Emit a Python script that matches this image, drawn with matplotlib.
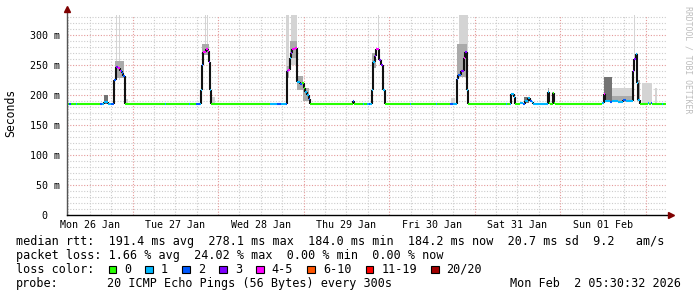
import numpy as np
import matplotlib.pyplot as plt
from matplotlib.patches import Rectangle

plt.rcParams['font.family'] = ['DejaVu Sans Mono', 'DejaVu Sans']

# time axis: hours since Mon 26 Jan 2026 00:00, last 7 days
t_start, t_end = 5.6, 173.6
day_labels = ['Mon 26 Jan', 'Tue 27 Jan', 'Wed 28 Jan', 'Thu 29 Jan',
              'Fri 30 Jan', 'Sat 31 Jan', 'Sun 01 Feb']
day_noon = [12, 36, 60, 84, 108, 132, 156]

# median rtt (ms) as steps, with lost pings (out of 20) for each step
med_t = [5.6, 6.3, 6.6, 8.0, 8.3, 14.8, 15.4, 16.1, 17.2, 18.0,
         18.9, 19.25, 19.8, 20.5, 20.85, 21.1, 21.4, 21.8,
         33.2, 33.5, 39.7, 40.0, 41.8, 43.0,
         43.2, 43.45, 43.7, 44.5, 45.2, 45.35, 45.65, 45.95,
         62.5, 64.5, 65.6, 67.0,
         67.25, 67.7, 68.1, 68.4, 68.8, 69.6, 70.2, 71.0, 71.5, 72.0, 72.4, 72.9, 73.4, 73.8,
         85.8, 86.05, 88.6, 89.0, 89.8, 90.3, 90.6,
         91.1, 91.35, 91.6, 91.9, 92.3, 93.25, 93.6, 94.3, 94.7,
         101.8, 102.1, 109.1, 109.4, 113.0, 113.8,
         114.95, 115.4, 116.1, 117.0, 117.25, 117.95, 118.25,
         128.8, 129.2, 129.9, 130.25, 130.9, 131.3, 132.8, 133.6, 134.2, 134.9, 135.4, 136.0, 136.5,
         140.55, 140.8, 141.2, 141.85, 142.15, 142.4,
         155.6, 156.3, 156.7, 158.0, 158.6, 160.2, 161.5, 162.4,
         164.3, 164.45, 164.8, 165.15, 165.45, 165.7, 166.5,
         168.6, 168.9, 169.6, 169.85, 172.5, 172.8, 173.6]
med_ms = [184, 184, 184, 184, 184, 184, 184, 188, 184, 184,
          224, 247, 245, 240, 240, 236, 232, 184,
          184, 184, 184, 184, 184, 184,
          208, 250, 272, 276, 273, 255, 208, 184,
          184, 184, 184, 184,
          240, 242, 262, 270, 277, 278, 222, 218, 220, 212, 204, 199, 193, 184,
          189, 184, 184, 184, 184, 184, 184,
          208, 240, 255, 265, 276, 258, 250, 208, 184,
          184, 184, 184, 184, 184, 184,
          226, 233, 239, 262, 272, 208, 184,
          184, 184, 184, 201, 196, 184, 186, 184, 189, 194, 190, 188, 184,
          204, 186, 184, 203, 186, 184,
          186, 201, 190, 188, 190, 188, 191, 189,
          215, 240, 259, 268, 220, 192, 184,
          187, 184, 187, 184, 184, 184, 184]
med_loss = [0, 2, 0, 1, 0, 2, 1, 1, 1, 2,
            2, 3, 4, 4, 2, 2, 2, 0,
            1, 0, 1, 0, 2, 1,
            1, 2, 4, 4, 4, 3, 1, 0,
            1, 2, 1, 2,
            3, 4, 1, 3, 4, 4, 1, 2, 0, 0, 1, 1, 2, 0,
            2, 0, 1, 0, 1, 2, 1,
            1, 2, 1, 3, 4, 3, 3, 1, 0,
            1, 0, 1, 0, 2, 1,
            2, 2, 3, 4, 3, 1, 0,
            1, 0, 1, 1, 1, 0, 1, 2, 1, 1, 2, 1, 1,
            1, 0, 0, 0, 0, 0,
            1, 4, 1, 2, 1, 1, 2, 1,
            2, 3, 3, 1, 1, 1, 0,
            1, 0, 2, 0, 1, 0, 0]

# smoke: spread of the 20 pings (ms), density 1 (few pings) .. 3 (many)
smoke_t0 = [19.45, 20.3, 44.3, 44.95, 67.05, 68.4, 92.8, 115.6, 164.65,
            16.0, 19.0, 21.7, 43.5, 45.9, 67.2, 68.3, 70.2, 71.8, 91.3, 94.6,
            113.4, 115.0, 133.9, 140.5, 141.8, 156.3, 158.6, 158.6, 165.5, 167.0, 170.5]
smoke_t1 = [19.75, 20.6, 44.5, 45.2, 67.95, 70.2, 93.2, 118.1, 164.95,
            17.1, 21.6, 22.6, 45.5, 47.2, 68.0, 70.2, 71.8, 73.6, 92.4, 95.2,
            114.6, 117.9, 135.3, 140.9, 142.1, 158.6, 164.3, 164.3, 166.5, 169.8, 171.2]
smoke_lo = [230, 225, 270, 270, 235, 250, 270, 230, 240,
            184, 228, 184, 266, 184, 228, 262, 208, 190, 245, 184,
            184, 230, 186, 186, 186, 190, 188, 188, 190, 186, 186]
smoke_hi = [333, 333, 333, 333, 333, 333, 333, 333, 333,
            199, 256, 193, 284, 196, 248, 290, 232, 212, 270, 192,
            195, 285, 197, 212, 205, 230, 212, 198, 225, 220, 212]
smoke_density = [1, 1, 1, 1, 1, 1, 1, 1, 1,
                 3, 2, 1, 2, 1, 2, 2, 2, 2, 2, 1,
                 1, 2, 3, 2, 2, 3, 1, 2, 2, 1, 1]

loss_keys = ['0', '1', '2', '3', '4-5', '6-10', '11-19', '20/20']
loss_colors = ['#26ff00', '#00b8ff', '#0059ff', '#7e00ff', '#ff00ff',
               '#ff5500', '#ff0000', '#a10000']
loss_upper = [0, 1, 2, 3, 5, 10, 19, 20]


def loss_color(n):
    for up, c in zip(loss_upper, loss_colors):
        if n <= up:
            return c
    return loss_colors[-1]


W, H = 697, 297
fig = plt.figure(figsize=(W / 100, H / 100), dpi=100)
ax = fig.add_axes([67 / W, 82 / H, 598.7 / W, 200 / H])
ax.set_xlim(t_start, t_end)
ax.set_ylim(0, 333)

# grid
for h in np.arange(6, 174, 6):
    if h % 24:
        ax.axvline(h, color='#cccccc', lw=0.8, ls=(0, (1, 1.5)), zorder=0)
for v in range(10, 334, 10):
    if v % 50:
        ax.axhline(v, color='#cccccc', lw=0.8, ls=(0, (1, 1.5)), zorder=0)
for h in range(24, 174, 24):
    ax.axvline(h, color='#e49a9a', lw=0.8, ls=(0, (1, 1.5)), zorder=0.5)
for v in range(50, 334, 50):
    ax.axhline(v, color='#e49a9a', lw=0.8, ls=(0, (1, 1.5)), zorder=0.5)

# smoke, lighter shades first
shades = {1: '#d4d4d4', 2: '#aaaaaa', 3: '#737373'}
t0, t1 = np.array(smoke_t0), np.array(smoke_t1)
lo, hi = np.array(smoke_lo), np.array(smoke_hi)
dens = np.array(smoke_density)
for d in (1, 2, 3):
    k = dens == d
    ax.bar(t0[k], hi[k] - lo[k], width=t1[k] - t0[k], bottom=lo[k],
           align='edge', color=shades[d], lw=0, zorder=1 + d * 0.1)

# median line: black risers, flat parts coloured by packet loss
mt, mv = np.array(med_t), np.array(med_ms)
jump = mv[1:] != mv[:-1]
ax.vlines(mt[1:][jump], mv[:-1][jump], mv[1:][jump], colors='#111111', lw=1.5,
          zorder=3)
seg_colors = [loss_color(n) for n in med_loss[:-1]]
ax.hlines(mv[:-1], mt[:-1], mt[1:], colors=seg_colors, lw=1.5, zorder=4)

# axes
for s in ax.spines.values():
    s.set_visible(False)
ax.plot([0, 0], [0, 1.02], transform=ax.transAxes, color='#555555', lw=1,
        clip_on=False, zorder=5)
ax.plot([0, 1.006], [0, 0], transform=ax.transAxes, color='black', lw=1,
        clip_on=False, zorder=5)
ax.plot([0], [1.03], marker='^', ms=4, color='#7f0000', transform=ax.transAxes,
        clip_on=False, zorder=6)
ax.plot([1.009], [0], marker='>', ms=4, color='#7f0000', transform=ax.transAxes,
        clip_on=False, zorder=6)

yt = list(range(0, 301, 50))
ax.set_yticks(yt, ['0  '] + [f'{v} m' for v in yt[1:]])
ax.set_xticks(day_noon, day_labels)
ax.tick_params(axis='y', length=0, pad=5, labelsize=7.2)
ax.tick_params(axis='x', length=0, pad=3.5, labelsize=7.2)

fig.text(11 / W, 1 - 113 / H, 'Seconds', rotation=90, ha='center', va='center',
         fontsize=8.3)
fig.text(688 / W, 1 - 60 / H, 'RRDTOOL / TOBI OETIKER', rotation=270,
         ha='center', va='center', fontsize=5.9, color='#bdbdbd')

# legend block
fs = 8.5
cw = 7.12
rows_y = [241, 255.5, 269.5, 283.5]
fig.text(16 / W, 1 - rows_y[0] / H,
         'median rtt:  191.4 ms avg  278.1 ms max  184.0 ms min  184.2 ms now  20.7 ms sd  9.2   am/s',
         va='center', fontsize=fs)
fig.text(16 / W, 1 - rows_y[1] / H,
         'packet loss: 1.66 % avg  24.02 % max  0.00 % min  0.00 % now',
         va='center', fontsize=fs)
fig.text(16 / W, 1 - rows_y[2] / H, 'loss color:', va='center', fontsize=fs)
x = 16 + 13 * cw
for key, col in zip(loss_keys, loss_colors):
    fig.patches.append(Rectangle((x / W, 1 - (rows_y[2] + 3.8) / H), 7.5 / W, 7.5 / H,
                                 transform=fig.transFigure, facecolor=col,
                                 edgecolor='black', lw=0.8))
    fig.text((x + 15.5) / W, 1 - rows_y[2] / H, key, va='center', fontsize=fs)
    x = x + 15.5 + len(key) * cw + 14.3
fig.text(16 / W, 1 - rows_y[3] / H, 'probe:', va='center', fontsize=fs)
fig.text(107 / W, 1 - rows_y[3] / H, '20 ICMP Echo Pings (56 Bytes) every 300s',
         va='center', fontsize=fs)
fig.text(681 / W, 1 - rows_y[3] / H, 'Mon Feb  2 05:30:32 2026', ha='right',
         va='center', fontsize=fs)

fig.savefig('out.png', dpi=100, facecolor='white')
